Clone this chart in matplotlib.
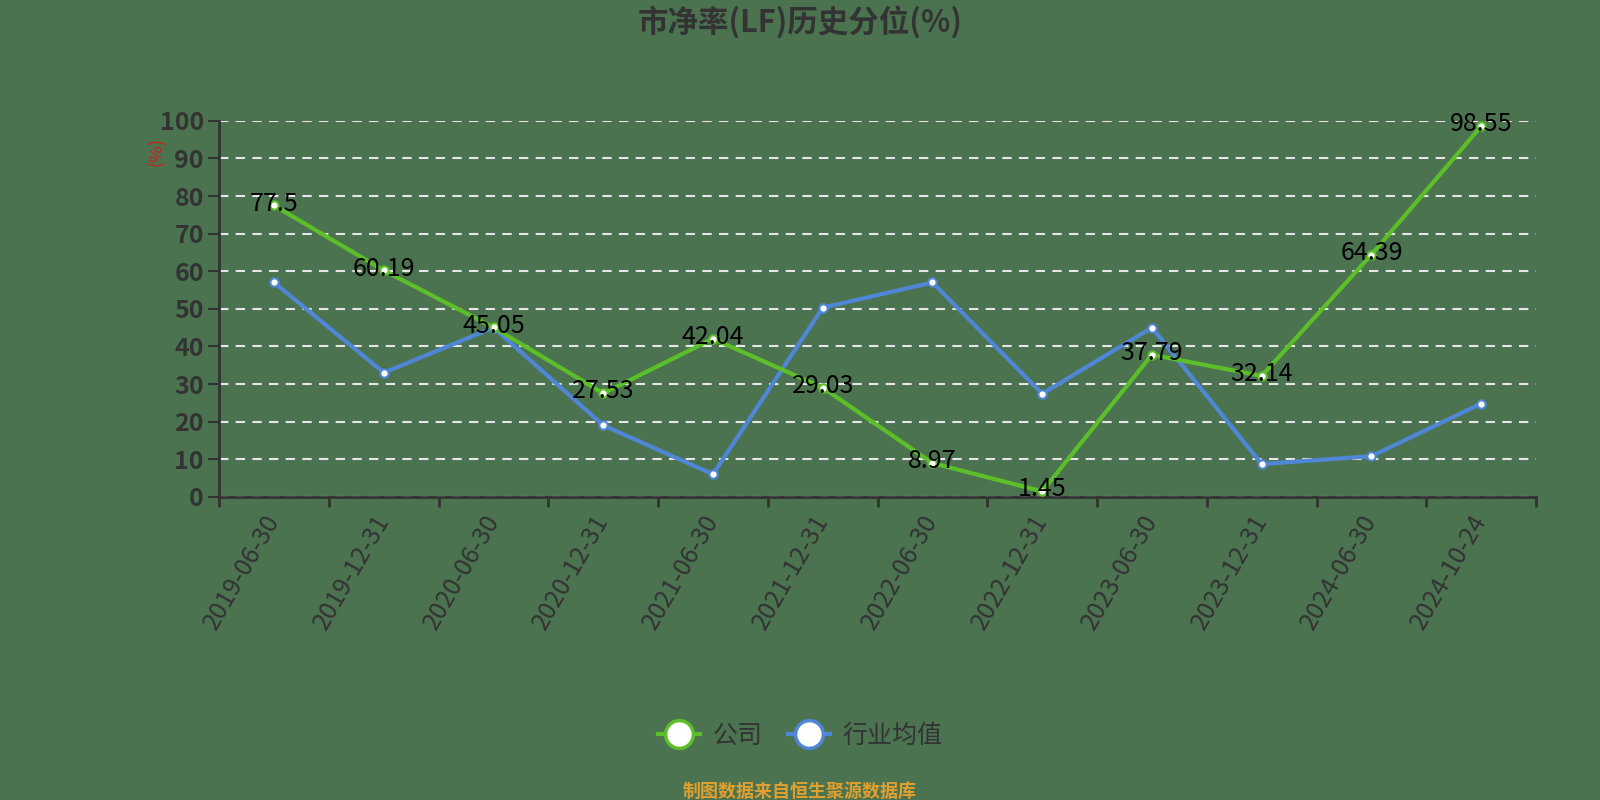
import numpy as np
import matplotlib
matplotlib.use("Agg")
import matplotlib.pyplot as plt

plt.rcParams['font.family'] = ['Noto Sans CJK SC', 'DejaVu Sans']

dates = ["2019-06-30", "2019-12-31", "2020-06-30", "2020-12-31", "2021-06-30", "2021-12-31",
         "2022-06-30", "2022-12-31", "2023-06-30", "2023-12-31", "2024-06-30", "2024-10-24"]
company = [77.5, 60.19, 45.05, 27.53, 42.04, 29.03, 8.97, 1.45, 37.79, 32.14, 64.39, 98.55]
industry = [57.0, 33.0, 45.0, 19.0, 6.0, 50.3, 57.0, 27.4, 45.0, 8.7, 10.8, 24.8]
yticks = [0, 10, 20, 30, 40, 50, 60, 70, 80, 90, 100]

bg = '#4b7350'
green = '#5cbf2a'
blue = '#4f87d6'
dark = '#333333'

fig = plt.figure(figsize=(16, 8), dpi=100, facecolor=bg)
ax = fig.add_axes([0.137, 0.379, 0.823, 0.470])
ax.set_facecolor(bg)

x = np.arange(len(dates))
ax.plot(x, industry, color=blue, lw=3, marker='o', ms=6, mfc='white', mec=blue, mew=1.5,
        zorder=3, label='行业均值')
ax.plot(x, company, color=green, lw=3, marker='o', ms=6, mfc='white', mec=green, mew=1.5,
        zorder=4, label='公司')

# data labels on the company line
for xi, v in zip(x, company):
    ax.text(xi, v + 0.5, f"{v:g}", ha='center', va='center', fontsize=18, color='black', zorder=5)

ax.set_xlim(-0.5, len(dates) - 0.5)
ax.set_ylim(0, 100)
ax.set_yticks(yticks)
ax.set_yticklabels([str(t) for t in yticks], fontsize=18, color=dark, fontweight='bold')
ax.yaxis.grid(True, color='#e6e6e6', linestyle=(0, (4.5, 3.5)), lw=1.5)
ax.set_axisbelow(True)

ax.set_xticks(x)
ax.set_xticklabels(dates, rotation=60, ha='right', va='center', rotation_mode='anchor',
                   fontsize=18, color=dark)
ax.tick_params(axis='x', length=0, pad=14)
ax.set_xticks(np.arange(-0.5, len(dates), 1.0), minor=True)
ax.tick_params(axis='x', which='minor', length=7, width=2, color=dark)
ax.tick_params(axis='y', length=8, width=1.5, color=dark, pad=3)

for s in ['top', 'right']:
    ax.spines[s].set_visible(False)
for s in ['left', 'bottom']:
    ax.spines[s].set_color(dark)
    ax.spines[s].set_linewidth(2)

fig.text(0.098, 0.81, '(%)', rotation=90, color='#cc2222', fontsize=13, ha='center', va='center')
fig.text(0.5, 0.972, '市净率(LF)历史分位(%)', ha='center', va='center', fontsize=22,
         fontweight='bold', color=dark)

leg_handles = []
for c in [green, blue]:
    hh, = ax.plot([], [], color=c, lw=3, marker='o', ms=20, mfc='white', mec=c, mew=2.5)
    leg_handles.append(hh)
fig.legend(leg_handles, ['公司', '行业均值'], loc='center', bbox_to_anchor=(0.5, 0.08),
           ncol=2, frameon=False, fontsize=18, labelcolor=dark, handlelength=1.7,
           columnspacing=1.0, handletextpad=0.5)

fig.text(0.5, 0.011, '制图数据来自恒生聚源数据库', ha='center', va='center', fontsize=13,
         fontweight='bold', color='#e0a030')

fig.savefig('out.png', dpi=100, facecolor=bg)
